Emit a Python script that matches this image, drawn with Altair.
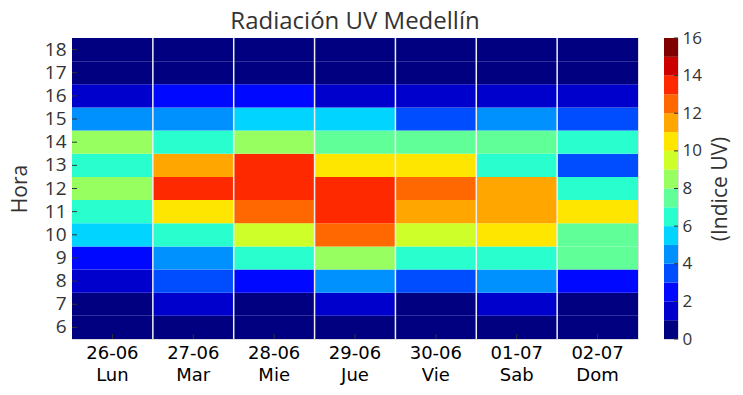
import altair as alt
import pandas as pd

# ---- data ----
days = ["26-06", "27-06", "28-06", "29-06", "30-06", "01-07", "02-07"]
weekdays = ["Lun", "Mar", "Mie", "Jue", "Vie", "Sab", "Dom"]
hours = [6, 7, 8, 9, 10, 11, 12, 13, 14, 15, 16, 17, 18]

# UV index per hour (6..18) for each day
uv_lun = [0, 0, 1, 2, 5, 6, 8, 6, 8, 4, 1, 0, 0]
uv_mar = [0, 1, 3, 4, 6, 10, 13, 11, 6, 4, 2, 0, 0]
uv_mie = [0, 0, 2, 6, 9, 12, 13, 13, 8, 5, 2, 0, 0]
uv_jue = [0, 1, 4, 8, 12, 13, 13, 10, 7, 5, 1, 0, 0]
uv_vie = [0, 0, 3, 6, 9, 11, 12, 10, 7, 3, 1, 0, 0]
uv_sab = [0, 1, 4, 6, 10, 11, 11, 6, 7, 4, 1, 0, 0]
uv_dom = [0, 0, 2, 7, 7, 10, 6, 3, 6, 3, 1, 0, 0]

levels = list(range(16))
jet16 = ["#000080", "#0000CD", "#0008FF", "#004DFF", "#0091FF", "#00D4FF",
         "#29FFCE", "#60FF97", "#97FF60", "#CEFF29", "#FFE600", "#FFA700",
         "#FF6800", "#FF2900", "#CD0000", "#800000"]
cbar_ticks = [0, 2, 4, 6, 8, 10, 12, 14, 16]

# ---- tables ----
day_labels = [f"{d}|{w}" for d, w in zip(days, weekdays)]
series = [uv_lun, uv_mar, uv_mie, uv_jue, uv_vie, uv_sab, uv_dom]
rows = []
for lab, vals in zip(day_labels, series):
    for h, v in zip(hours, vals):
        rows.append({"dia": lab, "hora": h, "uv": v})
df = pd.DataFrame(rows)
df_days = pd.DataFrame({"dia": day_labels})
df_sep = pd.DataFrame({"dia": day_labels[1:]})
df_hours = pd.DataFrame({"hora": hours})
df_cb = pd.DataFrame({"lo": levels, "hi": [l + 1 for l in levels], "color": jet16})
df_cbt = pd.DataFrame({"t": cbar_ticks})

W, H = 566, 301
FONT = "Open Sans"
GREY = "#333333"

xaxis = alt.Axis(title=None, labelExpr="split(datum.label, '|')", labelFont="DejaVu Sans",
                 labelFontSize=18, labelColor="black", labelLineHeight=22, labelPadding=5,
                 ticks=False, domain=False, labelAngle=0, grid=False)
yaxis = alt.Axis(title="Hora", titleFont=FONT, titleFontSize=21, titleFontWeight="normal",
                 titleColor=GREY, titlePadding=14, labelFont=FONT, labelFontSize=19,
                 labelColor=GREY, labelPadding=6, ticks=False, domain=False, grid=False)
xscale = alt.Scale(paddingInner=0, paddingOuter=0)
yscale = alt.Scale(paddingInner=0, paddingOuter=0)


def X(bp=None):
    kw = {} if bp is None else {"bandPosition": bp}
    return alt.X("dia:N", sort=day_labels, scale=xscale, axis=xaxis, **kw)


def Y(bp=None):
    kw = {} if bp is None else {"bandPosition": bp}
    return alt.Y("hora:O", sort="descending", scale=yscale, axis=yaxis, **kw)


heat = alt.Chart(df).mark_rect().encode(
    x=X(), y=Y(),
    color=alt.Color("uv:Q", scale=alt.Scale(type="threshold", domain=levels[1:], range=jet16),
                    legend=None),
)
seps = alt.Chart(df_sep).mark_rule(color="#eeeeee", strokeWidth=1.5).encode(x=X(0))
xticks = alt.Chart(df_days).mark_rule(color="#333333", strokeWidth=1).encode(
    x=X(0.5), y=alt.value(H - 5), y2=alt.value(H))
yticks = alt.Chart(df_hours).mark_rule(color="#333333", strokeWidth=1).encode(
    y=Y(0.5), x=alt.value(0), x2=alt.value(5))

left = alt.layer(heat, seps, xticks, yticks).properties(
    width=W, height=H,
    title=alt.TitleParams("Radiación UV Medellín", font=FONT, fontSize=24, color=GREY,
                          fontWeight="normal", offset=3),
)

cscale = alt.Scale(domain=[0, 16], nice=False, zero=False)
caxis = alt.Axis(orient="right", values=cbar_ticks, title="(Indice UV)", titleFont=FONT,
                 titleFontSize=21, titleFontWeight="normal", titleColor=GREY, titleAngle=270,
                 titleBaseline="top", titlePadding=8, labelFont=FONT, labelFontSize=17,
                 labelColor=GREY, labelPadding=4, ticks=False, domain=False, grid=False)
cbar = alt.Chart(df_cb).mark_rect().encode(
    y=alt.Y("lo:Q", scale=cscale, axis=caxis), y2="hi:Q",
    x=alt.value(0), x2=alt.value(14),
    color=alt.Color("color:N", scale=None),
)
cticks = alt.Chart(df_cbt).mark_rule(color="#333333").encode(
    y=alt.Y("t:Q", scale=cscale, axis=caxis), x=alt.value(10), x2=alt.value(14))
right = alt.layer(cbar, cticks).properties(width=14, height=H)

chart = alt.hconcat(left, right, spacing=26, bounds="flush").properties(
    padding={"left": 0, "top": 1, "right": 0, "bottom": 0}
).configure_view(stroke="#c8c8c8", strokeWidth=1).configure(background="white")

chart.save("out.html", embed_options={"renderer": "svg", "actions": False})
